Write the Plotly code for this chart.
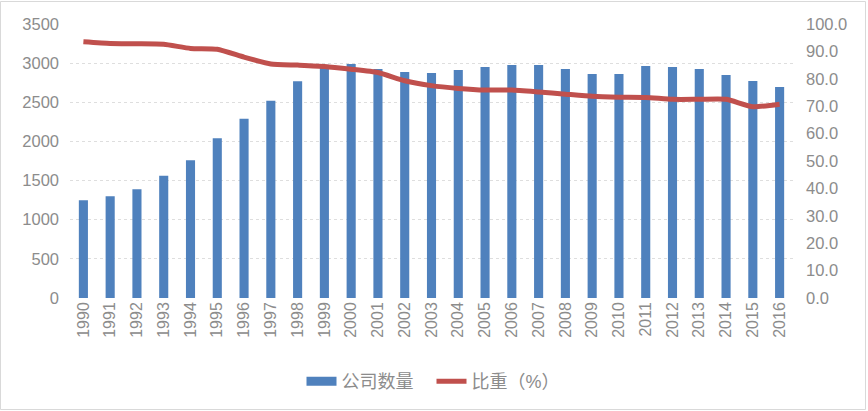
import plotly.graph_objects as go

years = [str(y) for y in range(1990, 2017)]
company_count = [1250, 1300, 1390, 1560, 1760, 2040, 2290, 2520, 2770, 2980,
                 2990, 2925, 2886, 2873, 2912, 2950, 2976, 2976, 2925, 2860,
                 2860, 2963, 2950, 2925, 2848, 2771, 2694]
share_pct = [93.5, 92.9, 92.8, 92.6, 91.1, 90.8, 87.9, 85.4, 85.0, 84.5,
             83.5, 82.3, 79.3, 77.5, 76.5, 75.9, 75.9, 75.2, 74.4, 73.6,
             73.3, 73.2, 72.5, 72.5, 72.5, 69.8, 70.7]

bar_name = "公司数量"
line_name = "比重（%）"

font_family = "Liberation Sans, Arial, Noto Sans CJK SC, sans-serif"
gray = "#8c8c8c"
blue = "#4F81BD"
red = "#C0504D"

fig = go.Figure()
fig.add_trace(go.Bar(x=years, y=company_count, name=bar_name,
                     marker=dict(color=blue, line=dict(width=0)),
                     yaxis="y", showlegend=False))
# legend proxy for bars (wide rectangle swatch)
fig.add_trace(go.Scatter(x=[None], y=[None], name=bar_name, mode="lines",
                         line=dict(color=blue, width=9), yaxis="y"))
fig.add_trace(go.Scatter(x=years, y=share_pct, name=line_name, mode="lines",
                         line=dict(color=red, width=5, shape="spline", smoothing=0.5),
                         yaxis="y2"))

PW, PH = 723, 274
fig.update_layout(
    width=868, height=411,
    margin=dict(l=70, r=75, t=24, b=113, autoexpand=False),
    paper_bgcolor="white", plot_bgcolor="white",
    font=dict(family=font_family, size=16, color=gray),
    bargap=0.66,
    showlegend=True,
    legend=dict(orientation="h", x=0.5, xanchor="center", y=-0.305, yanchor="middle",
                font=dict(size=18, color=gray), traceorder="normal",
                entrywidth=85, entrywidthmode="pixels"),
    xaxis=dict(type="category", tickangle=-90, showgrid=False, zeroline=False,
               showline=False, ticks="", automargin=False,
               tickfont=dict(size=16, color=gray)),
    yaxis=dict(range=[0, 3500], dtick=500, showgrid=True, gridcolor="#dedede",
               griddash="dot", gridwidth=1, zeroline=False, showline=False,
               ticks="", automargin=False,
               tickfont=dict(size=16.5, color=gray), ticklabelstandoff=10),
    yaxis2=dict(range=[0, 100], dtick=10, tickformat=".1f", overlaying="y", side="right",
                showgrid=False, zeroline=False, showline=False, ticks="", automargin=False,
                tickfont=dict(size=16.5, color=gray), ticklabelstandoff=12),
    shapes=[dict(type="rect", xref="paper", yref="paper",
                 x0=-69.5 / PW, x1=(PW + 72.5) / PW,
                 y0=-111.5 / PH, y1=(PH + 22.5) / PH,
                 line=dict(color="#d9d9d9", width=1), fillcolor="rgba(0,0,0,0)",
                 layer="below")],
)

fig.write_html("out.html",
               config={"displayModeBar": False},
               post_script="document.body.style.margin='0';")
